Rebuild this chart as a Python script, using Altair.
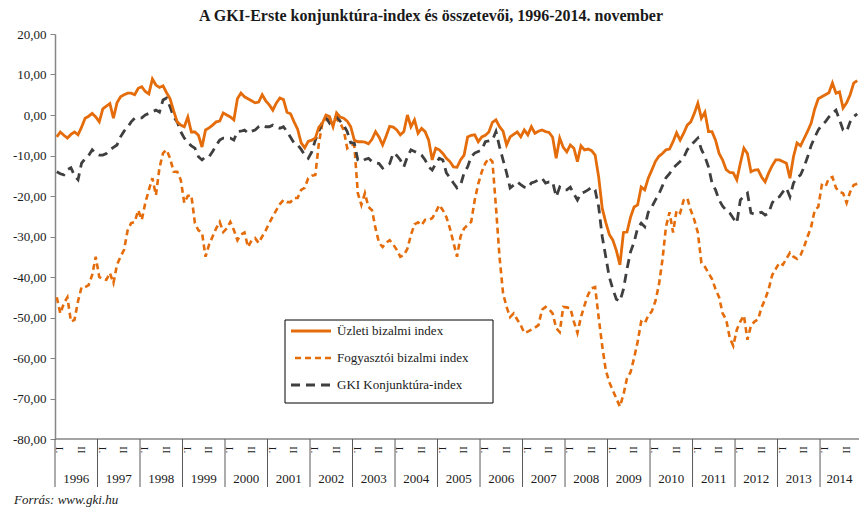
import altair as alt
import pandas as pd

# ---------------- data (monthly, 1996-01 .. 2014-11) ----------------
years = list(range(1996, 2015))
series_names = ["Üzleti bizalmi index", "Fogyasztói bizalmi index", "GKI Konjunktúra-index"]
month_marks = ["I.", "II"]

business = (
    [-5.4, -4.2, -5.0, -5.7, -4.8, -4.2, -4.9, -3.0, -0.8, -0.3, 0.4, -0.5]      # 1996
    + [-1.7, 1.5, 2.2, 2.8, -0.8, 3.0, 4.5, 5.0, 5.4, 5.4, 5.0, 6.6]            # 1997
    + [7.0, 5.8, 5.2, 8.9, 7.4, 6.8, 7.2, 5.5, 4.0, 1.0, -1.7, -2.5]            # 1998
    + [-2.9, -0.5, -4.2, -4.2, -5.0, -7.9, -3.7, -3.2, -2.5, -1.7, -1.5, 0.5]   # 1999
    + [0.0, -0.5, -1.2, 4.0, 5.4, 4.5, 4.0, 3.5, 3.0, 3.2, 5.0, 3.5]           # 2000
    + [2.5, 1.2, 3.0, 4.2, 3.8, 0.7, 0.3, -1.7, -3.5, -6.9, -8.1, -6.5]        # 2001
    + [-6.2, -5.7, -3.0, -2.0, 0.0, -0.4, -2.9, 0.5, -0.5, -0.8, -1.5, -2.9]   # 2002
    + [-6.2, -6.6, -6.6, -6.7, -7.1, -6.0, -4.1, -5.5, -7.4, -5.2, -2.8, -3.0] # 2003
    + [-3.7, -4.9, -4.1, 0.0, -2.9, -1.2, -4.5, -3.3, -4.1, -6.2, -11.1, -8.2] # 2004
    + [-8.6, -9.5, -10.7, -11.5, -12.8, -12.9, -11.1, -9.9, -5.4, -5.0, -4.9, -6.6]  # 2005
    + [-5.4, -5.0, -4.2, -1.8, -1.2, -2.9, -4.0, -7.4, -5.4, -4.8, -4.2, -5.4]       # 2006
    + [-3.7, -4.9, -2.9, -4.5, -4.0, -3.7, -4.1, -4.3, -5.5, -10.7, -5.7, -8.0]      # 2007
    + [-9.1, -7.4, -8.2, -11.5, -7.6, -8.6, -8.4, -8.8, -9.9, -15.3, -23.0, -26.5]   # 2008
    + [-29.5, -30.9, -33.5, -37.0, -29.0, -28.9, -25.2, -22.7, -22.2, -17.8, -18.5, -15.6]  # 2009
    + [-13.6, -11.5, -10.2, -9.5, -8.6, -8.4, -6.6, -4.4, -6.2, -4.5, -2.5, -1.7]    # 2010
    + [0.4, 2.9, -0.8, 0.7, -4.1, -4.1, -6.2, -9.5, -11.1, -13.5, -14.2, -14.3]      # 2011
    + [-16.0, -11.9, -8.2, -9.5, -14.0, -13.6, -13.5, -15.3, -16.5, -14.3, -12.5, -11.1]  # 2012
    + [-11.1, -11.5, -11.9, -15.6, -10.3, -6.9, -7.6, -5.8, -4.0, -2.0, 1.5, 4.0]   # 2013
    + [4.5, 5.0, 5.5, 7.9, 5.4, 5.7, 1.7, 3.0, 5.0, 7.9, 8.5]                       # 2014
)

consumer = (
    [-45.0, -49.0, -46.5, -45.0, -51.0, -50.6, -46.0, -42.5, -42.5, -42.0, -39.5, -35.0]   # 1996
    + [-40.0, -40.5, -40.7, -39.0, -41.5, -37.0, -35.0, -33.3, -28.5, -26.7, -26.4, -23.5] # 1997
    + [-25.9, -21.7, -18.5, -15.6, -19.8, -13.0, -9.4, -8.6, -10.7, -14.0, -14.0, -16.0]   # 1998
    + [-21.7, -20.0, -19.8, -26.7, -28.5, -29.0, -35.0, -32.0, -30.0, -28.0, -26.4, -28.9] # 1999
    + [-28.0, -26.4, -28.4, -30.9, -29.5, -29.0, -32.6, -31.0, -30.4, -31.6, -30.0, -28.5] # 2000
    + [-26.7, -25.0, -23.5, -22.0, -21.0, -21.5, -21.5, -20.5, -20.5, -18.5, -18.0, -15.6] # 2001
    + [-15.0, -14.8, -7.0, -2.0, -1.2, -1.0, -0.5, -1.0, -2.0, -3.7, -8.2, -7.4]           # 2002
    + [-7.4, -19.3, -22.2, -19.3, -22.7, -23.5, -28.0, -31.6, -32.6, -31.5, -30.9, -32.0]  # 2003
    + [-33.3, -35.0, -34.6, -33.0, -29.6, -27.0, -26.5, -27.2, -25.9, -25.9, -25.5, -24.0] # 2004
    + [-22.2, -23.5, -25.2, -28.0, -31.5, -35.0, -30.0, -28.0, -27.2, -26.4, -21.0, -17.0] # 2005
    + [-14.0, -11.9, -10.6, -11.5, -22.7, -35.0, -44.0, -47.4, -49.9, -49.0, -50.5, -51.9] # 2006
    + [-53.8, -53.5, -53.0, -52.5, -51.9, -48.1, -47.4, -48.0, -49.0, -52.6, -53.6, -47.4] # 2007
    + [-47.5, -47.7, -51.0, -53.8, -49.9, -47.0, -44.4, -42.8, -42.5, -50.0, -57.0, -63.0] # 2008
    + [-66.0, -68.0, -70.0, -72.0, -69.0, -65.0, -63.5, -60.0, -56.0, -51.0, -51.5, -49.5] # 2009
    + [-48.5, -46.0, -42.0, -35.8, -27.6, -24.0, -29.0, -23.5, -24.2, -21.0, -20.5, -23.5] # 2010
    + [-25.9, -29.0, -36.5, -37.5, -39.0, -40.5, -43.0, -45.0, -49.0, -50.5, -55.0, -57.0] # 2011
    + [-53.0, -51.0, -49.5, -55.5, -52.0, -51.0, -50.5, -47.5, -45.5, -43.0, -39.5, -38.0] # 2012
    + [-36.5, -37.0, -35.5, -34.0, -35.0, -35.5, -34.6, -32.5, -30.0, -27.6, -23.5, -22.7] # 2013
    + [-17.3, -17.8, -15.6, -15.3, -18.0, -19.0, -19.3, -21.7, -19.0, -17.3, -17.0]        # 2014
)

gki = (
    [-14.0, -14.5, -14.8, -13.5, -13.0, -15.0, -16.0, -11.9, -10.8, -10.0, -8.6, -9.5]     # 1996
    + [-9.9, -9.9, -9.5, -8.6, -8.0, -7.4, -5.4, -4.0, -3.0, -1.7, -0.8, -0.7]             # 1997
    + [-0.7, 0.0, 0.4, 0.8, 1.2, 0.7, 3.7, 4.2, 2.0, -0.5, -1.7, -4.1]                     # 1998
    + [-5.7, -6.8, -7.6, -8.2, -10.3, -11.1, -10.3, -10.3, -9.0, -7.5, -6.2, -5.7]         # 1999
    + [-5.7, -5.7, -6.2, -4.1, -4.0, -3.7, -4.5, -4.0, -3.7, -2.9, -2.5, -2.9]             # 2000
    + [-2.9, -2.5, -3.0, -3.3, -2.9, -4.1, -5.5, -6.9, -7.4, -8.5, -9.9, -10.7]            # 2001
    + [-9.1, -6.2, -4.0, -1.7, -0.7, -2.0, -0.7, -0.4, -1.5, -2.5, -4.1, -6.9]             # 2002
    + [-6.9, -11.1, -11.5, -11.0, -10.7, -11.5, -11.8, -12.0, -13.1, -12.5, -12.0, -9.4]   # 2003
    + [-10.0, -11.1, -12.8, -10.3, -8.6, -9.0, -9.4, -9.9, -11.1, -12.8, -13.6, -12.0]     # 2004
    + [-10.7, -11.1, -14.3, -15.5, -16.8, -18.0, -17.3, -14.3, -12.8, -10.3, -9.4, -9.0]   # 2005
    + [-8.6, -6.6, -6.4, -6.2, -4.1, -7.8, -11.1, -14.3, -18.0, -17.3, -16.5, -17.2]       # 2006
    + [-17.8, -18.0, -16.8, -16.5, -16.0, -15.6, -16.8, -16.5, -16.5, -20.2, -17.8, -18.5] # 2007
    + [-18.5, -17.8, -19.5, -21.0, -19.3, -19.0, -18.5, -17.8, -18.5, -22.7, -30.0, -35.0] # 2008
    + [-40.0, -43.0, -45.5, -46.0, -43.0, -38.0, -33.8, -31.4, -27.9, -26.7, -27.6, -24.0] # 2009
    + [-22.7, -21.0, -19.5, -17.5, -15.5, -14.5, -13.1, -12.3, -11.5, -10.5, -8.6, -7.5]   # 2010
    + [-6.6, -5.7, -8.5, -10.3, -12.8, -16.8, -18.5, -21.0, -22.5, -23.5, -24.2, -25.5]    # 2011
    + [-26.7, -21.0, -20.0, -19.3, -24.2, -24.5, -24.3, -24.0, -24.7, -24.2, -21.7, -20.5] # 2012
    + [-20.2, -19.0, -18.0, -20.2, -16.8, -15.5, -14.8, -12.8, -10.3, -7.5, -5.5, -3.7]    # 2013
    + [-2.5, -1.7, -0.5, 0.4, 1.2, -1.2, -3.7, -4.1, -1.7, -0.4, 0.3]                      # 2014
)

# ---------------- layout constants ----------------
W, H = 804, 405
N = len(business)
ORANGE = "#E46C0A"
GRAY = "#3F3F3F"
SERIF = "Liberation Serif"
TXT = "#1a1a1a"

rows = []
for name, vals in zip(series_names, [business, consumer, gki]):
    for i, v in enumerate(vals):
        rows.append({"t": i + 0.5, "v": v, "s": name})
df = pd.DataFrame(rows)

xs = alt.Scale(domain=[0, N], nice=False, zero=False)
ys = alt.Scale(domain=[-80, 20], nice=False, zero=False)
yaxis = alt.Axis(
    values=list(range(-80, 30, 10)),
    labelExpr="(datum.value < 0 ? '-' : '') + replace(format(abs(datum.value), '.2f'), '.', ',')",
    grid=False, title=None, domainColor="#868686", domainWidth=1.5,
    tickColor="#868686", tickSize=5, labelPadding=4,
    labelFont=SERIF, labelFontSize=13, labelColor=TXT,
)
X = alt.X("t:Q", scale=xs, axis=None)
Y = alt.Y("v:Q", scale=ys, axis=yaxis)

base = alt.Chart(df)
line_b = base.transform_filter(alt.datum.s == series_names[0]).mark_line(
    color=ORANGE, strokeWidth=2.8).encode(x=X, y=Y)
line_c = base.transform_filter(alt.datum.s == series_names[1]).mark_line(
    color=ORANGE, strokeWidth=2.6, strokeDash=[6, 4]).encode(x=X, y=Y)
line_g = base.transform_filter(alt.datum.s == series_names[2]).mark_line(
    color=GRAY, strokeWidth=2.8, strokeDash=[9, 6]).encode(x=X, y=Y)

# bottom axis line
bottom = alt.Chart(pd.DataFrame({"v": [-80]})).mark_rule(
    color="#868686", strokeWidth=1.5).encode(y=Y, x=alt.value(0), x2=alt.value(W))

# year separators
seps = alt.Chart(pd.DataFrame({"t": [12 * k for k in range(len(years))]})).mark_rule(
    color="#595959", strokeWidth=1).encode(x=X, y=alt.value(H), y2=alt.value(H + 48))

# year labels
ylab_df = pd.DataFrame({
    "t": [12 * k + 6 if y < 2014 else 12 * k + 5.5 for k, y in enumerate(years)],
    "lab": [str(y) for y in years],
})
year_labels = alt.Chart(ylab_df).mark_text(
    font=SERIF, fontSize=13, color=TXT, baseline="middle").encode(
    x=X, y=alt.value(H + 40), text="lab:N")

# rotated month marks
mrows = []
for k in range(len(years)):
    mrows.append({"t": 12 * k + 1.2, "lab": month_marks[0]})
    mrows.append({"t": 12 * k + 7.3, "lab": month_marks[1]})
month_labels = alt.Chart(pd.DataFrame(mrows)).mark_text(
    font=SERIF, fontSize=11, color=TXT, angle=90, baseline="middle", align="center").encode(
    x=X, y=alt.value(H + 11), text="lab:N")

one = pd.DataFrame({"a": [0]})
title = alt.Chart(one).mark_text(
    text="A GKI-Erste konjunktúra-index és összetevői, 1996-2014. november",
    font=SERIF, fontSize=16, fontWeight="bold", color=TXT, align="center", baseline="middle",
).encode(x=alt.value(376), y=alt.value(-18))

source = alt.Chart(one).mark_text(
    text="Forrás: www.gki.hu", font=SERIF, fontSize=13, fontStyle="italic", color=TXT,
    align="left", baseline="alphabetic",
).encode(x=alt.value(-41), y=alt.value(470))

# legend
lx0, ly0, lx1, ly1 = 230, 286, 438, 369
legend_box = alt.Chart(one).mark_rect(fill="white", stroke="black", strokeWidth=1).encode(
    x=alt.value(lx0), x2=alt.value(lx1), y=alt.value(ly0), y2=alt.value(ly1))
leg_y = [297, 324, 351]
leg1 = alt.Chart(one).mark_rule(color=ORANGE, strokeWidth=2.8).encode(
    x=alt.value(236), x2=alt.value(276), y=alt.value(leg_y[0]))
leg2 = alt.Chart(one).mark_rule(color=ORANGE, strokeWidth=2.6, strokeDash=[6, 4]).encode(
    x=alt.value(240), x2=alt.value(276), y=alt.value(leg_y[1]))
leg3 = alt.Chart(one).mark_rule(color=GRAY, strokeWidth=2.8, strokeDash=[9, 6]).encode(
    x=alt.value(236), x2=alt.value(276), y=alt.value(leg_y[2]))
leg_texts = [
    alt.Chart(one).mark_text(text=series_names[i], font=SERIF, fontSize=13, color=TXT,
                             align="left", baseline="middle").encode(
        x=alt.value(282), y=alt.value(leg_y[i]))
    for i in range(3)
]

chart = alt.layer(
    bottom, seps, year_labels, month_labels,
    line_c, line_g, line_b,
    legend_box, leg1, leg2, leg3, *leg_texts,
    title, source,
).properties(
    width=W, height=H,
    autosize=alt.AutoSizeParams(type="none"),
    padding={"left": 47, "top": 26, "right": 0, "bottom": 71},
).configure_view(stroke=None)

chart.save("out.html", embed_options={"renderer": "svg", "actions": False})
